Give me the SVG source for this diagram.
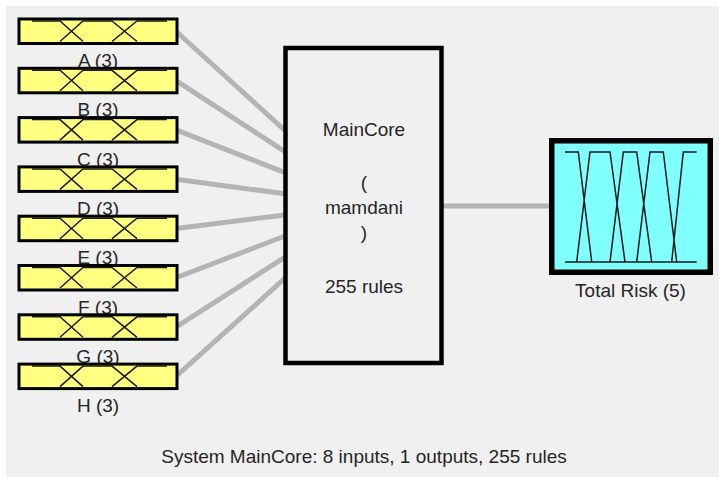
<svg xmlns="http://www.w3.org/2000/svg" width="719" height="477" viewBox="0 0 719 477">
<style>
text{font-family:"Liberation Sans",Arial,sans-serif;font-size:19px;fill:#262626}
.lbl{text-anchor:middle}
.inbox{fill:#ffff80;stroke:#000;stroke-width:3}
.mf{fill:none;stroke:#1a1a1a;stroke-width:1.5}
.conn{stroke:#b4b4b4;stroke-width:5;fill:none}
</style>
<defs>
<g id="inshape">
<rect class="inbox" x="19" y="1.5" width="158" height="24.5"/>
<path class="mf" d="M32,3.5H60L83,24M60,24L83,3.5H112L137,24M112,24L137,3.5H167"/>
</g>
</defs>
<rect x="0" y="0" width="719" height="477" fill="#ffffff"/>
<rect x="6" y="6" width="713" height="471" fill="#f0f0f0"/>
<g id="connectors">
<line class="conn" x1="176" y1="31.25" x2="285" y2="130.5"/>
<line class="conn" x1="176" y1="80.55" x2="285" y2="151.6"/>
<line class="conn" x1="176" y1="129.85" x2="285" y2="172.7"/>
<line class="conn" x1="176" y1="179.15" x2="285" y2="193.8"/>
<line class="conn" x1="176" y1="228.45" x2="285" y2="214.9"/>
<line class="conn" x1="176" y1="277.75" x2="285" y2="236"/>
<line class="conn" x1="176" y1="327.05" x2="285" y2="257.1"/>
<line class="conn" x1="176" y1="376.35" x2="285" y2="278.2"/>
<line class="conn" x1="442" y1="206" x2="551" y2="206"/>
</g>
<g id="in-A" transform="translate(0,17.5)"><use href="#inshape"/><text class="lbl" x="98" y="49.5">A (3)</text></g>
<g id="in-B" transform="translate(0,66.8)"><use href="#inshape"/><text class="lbl" x="98" y="49.5">B (3)</text></g>
<g id="in-C" transform="translate(0,116.1)"><use href="#inshape"/><text class="lbl" x="98" y="49.5">C (3)</text></g>
<g id="in-D" transform="translate(0,165.4)"><use href="#inshape"/><text class="lbl" x="98" y="49.5">D (3)</text></g>
<g id="in-E" transform="translate(0,214.7)"><use href="#inshape"/><text class="lbl" x="98" y="49.5">E (3)</text></g>
<g id="in-F" transform="translate(0,264)"><use href="#inshape"/><text class="lbl" x="98" y="49.5">F (3)</text></g>
<g id="in-G" transform="translate(0,313.3)"><use href="#inshape"/><text class="lbl" x="98" y="49.5">G (3)</text></g>
<g id="in-H" transform="translate(0,362.6)"><use href="#inshape"/><text class="lbl" x="98" y="49.5">H (3)</text></g>
<g id="maincore">
<rect x="285.5" y="48" width="156" height="315" fill="#f0f0f0" stroke="#000" stroke-width="4.5"/>
<text class="lbl" x="364" y="136">MainCore</text>
<text class="lbl" x="364" y="189">(</text>
<text class="lbl" x="364" y="213.5">mamdani</text>
<text class="lbl" x="364" y="239">)</text>
<text class="lbl" x="364" y="293">255 rules</text>
</g>
<g id="out-totalrisk">
<rect x="551.75" y="140.75" width="158.5" height="131.5" fill="#80ffff" stroke="#000" stroke-width="5.5"/>
<path class="mf" d="M565,152H578.3L591.7,262M576.7,262L590,152H610L625,262M610,262L623.3,152H636.7L651.7,262M636.7,262L650,152H663.3L676.7,262M671.7,262L683.3,152H696.7M565,262H696.7"/>
<text class="lbl" x="630.5" y="296.5">Total Risk (5)</text>
</g>
<text class="lbl" x="364" y="463">System MainCore: 8 inputs, 1 outputs, 255 rules</text>
</svg>
